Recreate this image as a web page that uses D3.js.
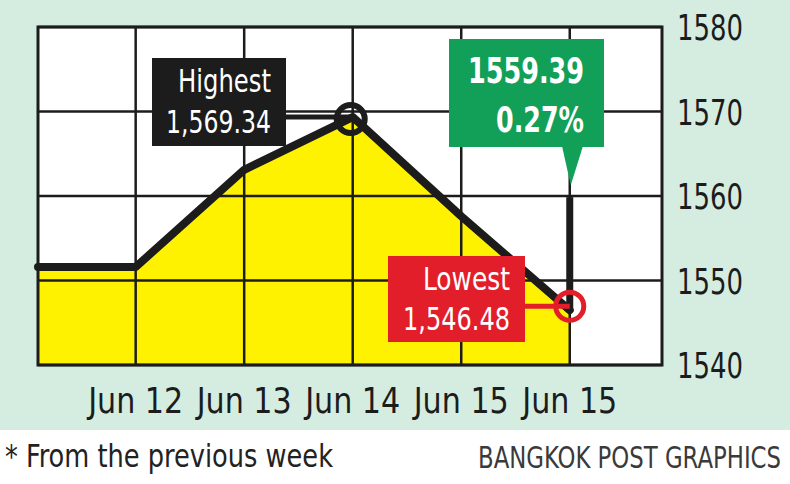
<!DOCTYPE html>
<html>
<head>
<meta charset="utf-8">
<script src="https://cdn.jsdelivr.net/npm/d3@7"></script>
<style>
  html, body { margin: 0; padding: 0; background: #ffffff; }
  svg { display: block; }
</style>
</head>
<body>
<div id="chart"></div>
<script>
// data
const categories = ['Jun 12', 'Jun 13', 'Jun 14', 'Jun 15', 'Jun 15'];
const yTicks = [1540, 1550, 1560, 1570, 1580];
// index -0.9 = previous week close (left edge of the frame)
const pointIndex = [-0.9, 0, 1, 2, 3, 4];
const pointValue = [1551.6, 1551.6, 1563.1, 1569.34, 1557.6, 1546.48];
const highest = 1569.34;
const lowest = 1546.48;
const closeValue = 1559.39;
const closeChange = '0.27%';

const W = 790, H = 484;
const FONT = '"DejaVu Sans Condensed", "Liberation Sans Narrow", sans-serif';

const svg = d3.select('#chart')
    .append('svg')
    .attr('width', W)
    .attr('height', H);

// narrow text: squeeze to the width seen in the picture
function label(g, px, py, str, size, width, anchor, color, weight) {
    return g.append('text')
        .attr('x', px).attr('y', py)
        .attr('text-anchor', anchor || 'start')
        .attr('fill', color || '#1c1c1c')
        .attr('textLength', width)
        .attr('lengthAdjust', 'spacingAndGlyphs')
        .style('font-family', FONT)
        .style('font-size', size + 'px')
        .style('font-weight', weight || 'normal')
        .text(str);
}

// green panel
svg.append('rect')
    .attr('x', 0).attr('y', 0)
    .attr('width', W).attr('height', 430)
    .attr('fill', '#d5ede0');

const x = d3.scaleLinear().domain([-0.9, 4.85]).range([38, 662]);
const y = d3.scaleLinear().domain([1540, 1580]).range([365, 27]);
const x0 = x(-0.9), x1 = x(4.85);

const points = pointIndex.map((d, i) => ({ i: d, v: pointValue[i] }));

// plot background
svg.append('rect')
    .attr('x', x0).attr('y', y(1580))
    .attr('width', x1 - x0)
    .attr('height', y(1540) - y(1580))
    .attr('fill', '#ffffff');

// yellow area
const area = d3.area()
    .x(d => x(d.i))
    .y0(y(1540))
    .y1(d => y(d.v));

svg.append('path')
    .datum(points)
    .attr('d', area)
    .attr('fill', '#fff200');

// grid
svg.append('g')
    .selectAll('line')
    .data(yTicks)
    .join('line')
    .attr('x1', x0).attr('x2', x1)
    .attr('y1', d => y(d)).attr('y2', d => y(d))
    .attr('stroke', '#1c1c1c')
    .attr('stroke-width', 2.5);

svg.append('g')
    .selectAll('line')
    .data(d3.range(categories.length))
    .join('line')
    .attr('x1', d => x(d)).attr('x2', d => x(d))
    .attr('y1', y(1580)).attr('y2', y(1540))
    .attr('stroke', '#1c1c1c')
    .attr('stroke-width', 2.5);

// frame
svg.append('rect')
    .attr('x', x0).attr('y', y(1580))
    .attr('width', x1 - x0)
    .attr('height', y(1540) - y(1580))
    .attr('fill', 'none')
    .attr('stroke', '#1c1c1c')
    .attr('stroke-width', 3);

// right axis labels
const ga = svg.append('g');
yTicks.forEach(t => label(ga, x1 + 15, y(t) + 13, d3.format('d')(t), 36, 66));

// bottom labels
const gx = svg.append('g');
categories.forEach((c, i) => label(gx, x(i), 413, c, 36, 95, 'middle'));

// price line + close
const line = d3.line().x(d => x(d.i)).y(d => y(d.v));
svg.append('path')
    .datum(points)
    .attr('d', line)
    .attr('fill', 'none')
    .attr('stroke', '#1c1c1c')
    .attr('stroke-width', 8)
    .attr('stroke-linejoin', 'round')
    .attr('stroke-linecap', 'round');

svg.append('line')
    .attr('x1', x(4)).attr('x2', x(4))
    .attr('y1', y(lowest)).attr('y2', y(closeValue) - 4)
    .attr('stroke', '#1c1c1c')
    .attr('stroke-width', 7);

// highest marker
svg.append('line')
    .attr('x1', 286).attr('x2', x(2))
    .attr('y1', y(highest)).attr('y2', y(highest))
    .attr('stroke', '#1c1c1c')
    .attr('stroke-width', 5);
svg.append('circle')
    .attr('cx', x(2) - 2).attr('cy', y(highest) + 2)
    .attr('r', 14)
    .attr('fill', 'none')
    .attr('stroke', '#1c1c1c')
    .attr('stroke-width', 6);

svg.append('rect')
    .attr('x', 152).attr('y', 58)
    .attr('width', 134).attr('height', 88)
    .attr('fill', '#1c1c1c');
const gHi = svg.append('g');
label(gHi, 271, 92, 'Highest', 32, 93, 'end', '#ffffff');
label(gHi, 271, 133, d3.format(',.2f')(highest), 32, 105, 'end', '#ffffff');

// lowest marker
svg.append('line')
    .attr('x1', 525).attr('x2', x(4))
    .attr('y1', y(lowest) - 4).attr('y2', y(lowest) - 4)
    .attr('stroke', '#e31e2b')
    .attr('stroke-width', 5);
svg.append('circle')
    .attr('cx', x(4)).attr('cy', y(lowest) - 4)
    .attr('r', 14)
    .attr('fill', 'none')
    .attr('stroke', '#e31e2b')
    .attr('stroke-width', 5);

svg.append('rect')
    .attr('x', 388).attr('y', 256)
    .attr('width', 137).attr('height', 86)
    .attr('fill', '#e31e2b');
const gLo = svg.append('g');
label(gLo, 510, 290, 'Lowest', 32, 87, 'end', '#ffffff');
label(gLo, 510, 330, d3.format(',.2f')(lowest), 32, 107, 'end', '#ffffff');

// close callout
svg.append('rect')
    .attr('x', 449).attr('y', 39)
    .attr('width', 155).attr('height', 108)
    .attr('fill', '#12a059');
svg.append('path')
    .attr('d', `M562,146 L583,146 L${x(4) + 1},${y(closeValue) - 16} Z`)
    .attr('fill', '#12a059');
const gCl = svg.append('g');
label(gCl, 584, 83, closeValue.toFixed(2), 36, 116, 'end', '#ffffff', 'bold');
label(gCl, 584, 132, closeChange, 36, 88, 'end', '#ffffff', 'bold');

// footer
const gf = svg.append('g');
label(gf, 5, 467, '* From the previous week', 32, 328, 'start', '#222222');
label(gf, 781, 468, 'BANGKOK POST GRAPHICS', 30, 303, 'end', '#3a3a3a');
</script>
</body>
</html>
